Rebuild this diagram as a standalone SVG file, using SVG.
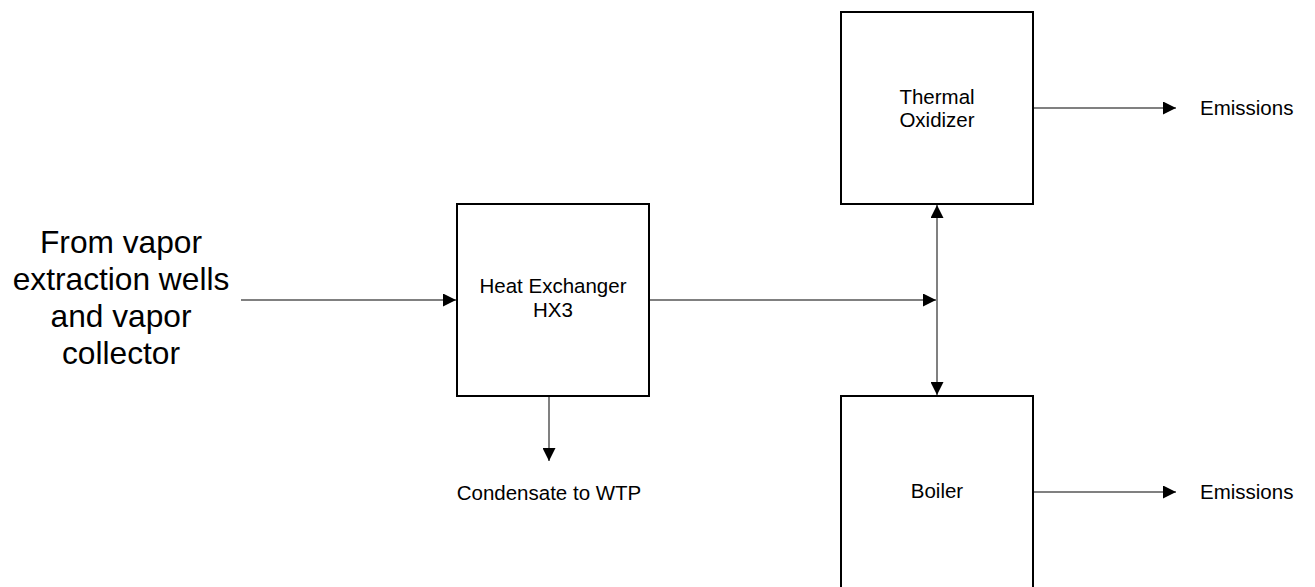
<svg xmlns="http://www.w3.org/2000/svg" width="1315" height="587" viewBox="0 0 1315 587">
  <style>
    .box { fill: #ffffff; stroke: #000000; stroke-width: 2; }
    .flow { fill: none; stroke: #808080; stroke-width: 2; }
    .lbl { font-family: "Liberation Sans", Arial, sans-serif; font-size: 20.5px; fill: #000000; text-anchor: middle; }
    .big { font-family: "Liberation Sans", Arial, sans-serif; font-size: 31.7px; fill: #000000; text-anchor: middle; }
    .side { font-family: "Liberation Sans", Arial, sans-serif; font-size: 20.5px; fill: #000000; }
  </style>
  <defs>
    <marker id="arrow" viewBox="0 0 13 13" refX="13" refY="6.5" markerWidth="13" markerHeight="13" markerUnits="userSpaceOnUse" orient="auto-start-reverse">
      <path d="M0,0 L13,6.5 L0,13 Z" fill="#000000"/>
    </marker>
  </defs>
  <rect width="1315" height="587" fill="#ffffff"/>

  <!-- process streams -->
  <g id="connectors">
    <line class="flow" x1="241" y1="300" x2="456" y2="300" marker-end="url(#arrow)"/>
    <line class="flow" x1="649" y1="300" x2="936" y2="300" marker-end="url(#arrow)"/>
    <line class="flow" x1="937" y1="205" x2="937" y2="395" marker-start="url(#arrow)" marker-end="url(#arrow)"/>
    <line class="flow" x1="549" y1="396" x2="549" y2="461" marker-end="url(#arrow)"/>
    <line class="flow" x1="1033" y1="108" x2="1176" y2="108" marker-end="url(#arrow)"/>
    <line class="flow" x1="1033" y1="492" x2="1176" y2="492" marker-end="url(#arrow)"/>
  </g>

  <g id="source">
    <text class="big" x="121" y="253">From vapor</text>
    <text class="big" x="121" y="290">extraction wells</text>
    <text class="big" x="121" y="327">and vapor</text>
    <text class="big" x="121" y="364">collector</text>
  </g>

  <g id="heat-exchanger">
    <rect class="box" x="457" y="204" width="192" height="192"/>
    <text class="lbl" x="553" y="293">Heat Exchanger</text>
    <text class="lbl" x="553" y="317">HX3</text>
  </g>

  <g id="condensate">
    <text class="lbl" x="549" y="500">Condensate to WTP</text>
  </g>

  <g id="thermal-oxidizer">
    <rect class="box" x="841" y="12" width="192" height="192"/>
    <text class="lbl" x="937" y="104">Thermal</text>
    <text class="lbl" x="937" y="127">Oxidizer</text>
  </g>

  <g id="boiler">
    <rect class="box" x="841" y="396" width="192" height="200"/>
    <text class="lbl" x="937" y="498">Boiler</text>
  </g>

  <g id="emissions-to">
    <text class="side" x="1200" y="115">Emissions</text>
  </g>
  <g id="emissions-bo">
    <text class="side" x="1200" y="499">Emissions</text>
  </g>
</svg>
